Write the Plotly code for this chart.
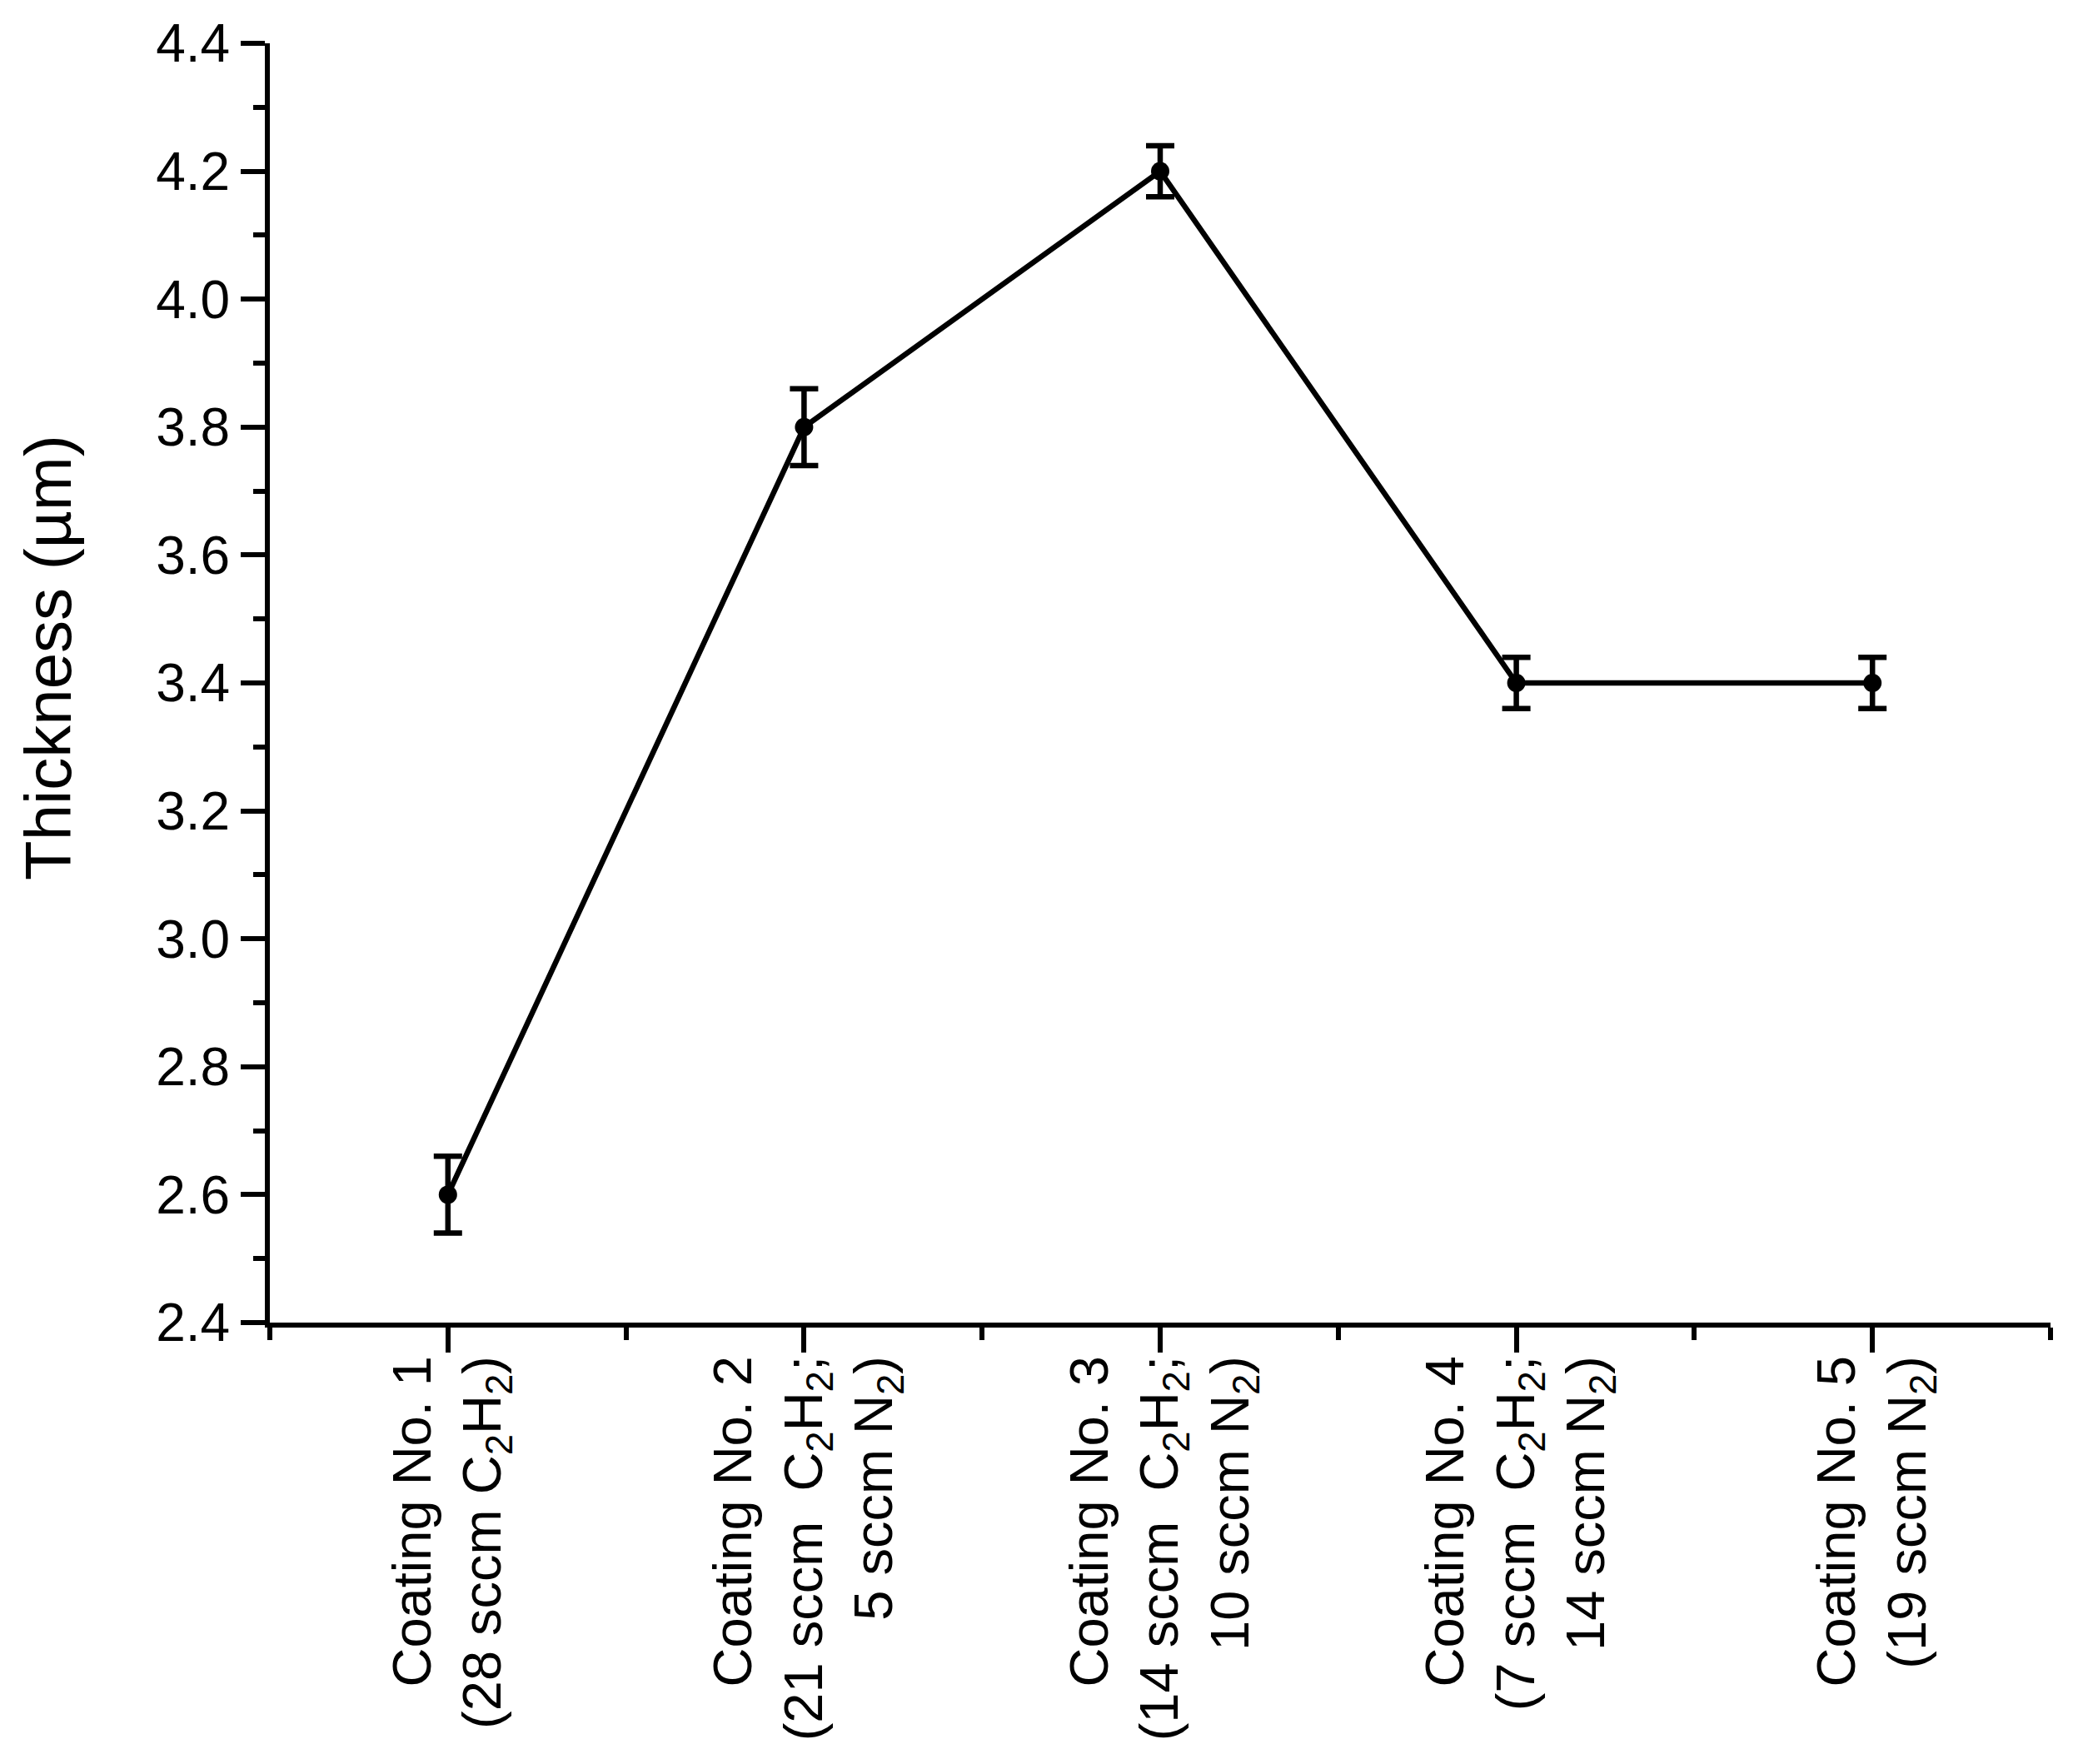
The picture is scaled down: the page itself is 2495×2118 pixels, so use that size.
import plotly.graph_objects as go

# Data
categories = [1, 2, 3, 4, 5]
tick_labels = [
    "Coating No. 1<br>(28 sccm C<sub>2</sub>H<sub>2</sub>)",
    "Coating No. 2<br>(21 sccm  C<sub>2</sub>H<sub>2</sub>;<br>5 sccm N<sub>2</sub>)",
    "Coating No. 3<br>(14 sccm  C<sub>2</sub>H<sub>2</sub>;<br>10 sccm N<sub>2</sub>)",
    "Coating No. 4<br>(7 sccm  C<sub>2</sub>H<sub>2</sub>;<br>14 sccm N<sub>2</sub>)",
    "Coating No. 5<br>(19 sccm N<sub>2</sub>)",
]
thickness = [2.6, 3.8, 4.2, 3.4, 3.4]
thickness_err = [0.06, 0.06, 0.04, 0.04, 0.04]
y_ticks = [2.4, 2.6, 2.8, 3.0, 3.2, 3.4, 3.6, 3.8, 4.0, 4.2, 4.4]
x_minor = [0.5, 1.5, 2.5, 3.5, 4.5, 5.5]
y_title = "Thickness (µm)"

FONT = "Liberation Sans, Arial, sans-serif"

L, R, T, B = 316, 41, 44, 538
W, H = 2495, 2118
plot_left, plot_right = L, W - R
plot_top, plot_bottom = T, H - B

fig = go.Figure()
fig.add_trace(go.Scatter(
    x=categories, y=thickness,
    mode="lines+markers",
    line=dict(color="black", width=6.5),
    marker=dict(color="black", size=22),
    error_y=dict(type="data", array=thickness_err, visible=True,
                 color="black", thickness=6.5, width=17),
    showlegend=False,
    cliponaxis=False,
))

fig.update_layout(
    width=W, height=H,
    margin=dict(l=L, r=R, t=T, b=B, autoexpand=False),
    paper_bgcolor="white", plot_bgcolor="white",
    font=dict(family=FONT, size=64, color="black"),
)

fig.update_xaxes(
    range=[0.5, 5.5],
    tickmode="array", tickvals=categories, ticktext=tick_labels,
    tickangle=-90,
    ticks="outside", ticklen=30, tickwidth=6, tickcolor="black",
    ticklabelstandoff=-22,
    minor=dict(tickmode="array", tickvals=x_minor, ticks="outside",
               ticklen=15, tickwidth=6, tickcolor="black"),
    showline=True, linewidth=6, linecolor="black",
    showgrid=False, zeroline=False,
    tickfont=dict(family=FONT, size=65, color="black"),
)

fig.update_yaxes(
    range=[2.4, 4.4],
    tickmode="array", tickvals=y_ticks,
    ticktext=[f"{v:.1f}" for v in y_ticks],
    ticks="outside", ticklen=29, tickwidth=6, tickcolor="black",
    minor=dict(dtick=0.1, tick0=2.4, ticks="outside", ticklen=14,
               tickwidth=6, tickcolor="black"),
    showline=True, linewidth=6, linecolor="black",
    showgrid=False, zeroline=False,
    tickfont=dict(family=FONT, size=64, color="black"),
)

# Y-axis title placed to match the reference (slightly above plot centre)
fig.add_annotation(
    text=y_title, textangle=-90,
    xref="paper", yref="paper",
    x=(50 - plot_left) / (plot_right - plot_left),
    y=(plot_bottom - 782) / (plot_bottom - plot_top),
    xanchor="center", yanchor="middle",
    showarrow=False,
    font=dict(family=FONT, size=78, color="black"),
)

fig.write_html("out.html")
